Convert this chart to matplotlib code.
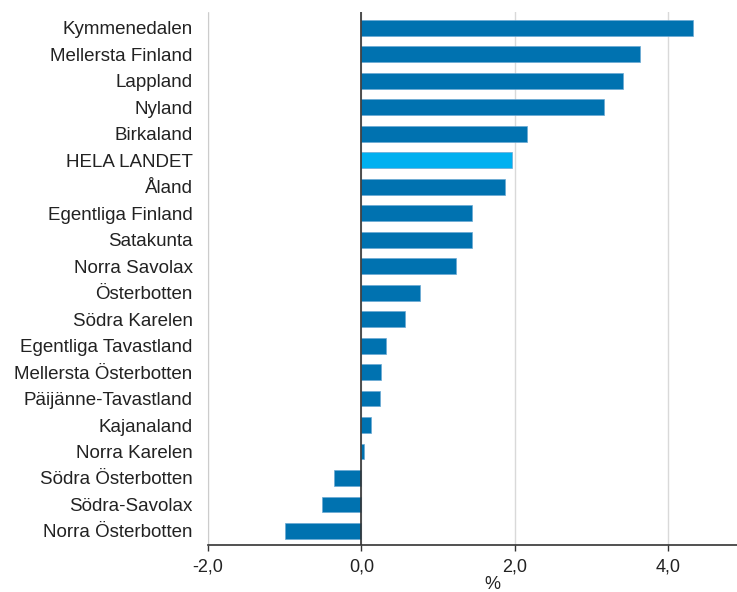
import matplotlib.pyplot as plt

plt.rcParams['font.family'] = ['Liberation Sans', 'DejaVu Sans']

# data, top to bottom
regioner = ['Kymmenedalen', 'Mellersta Finland', 'Lappland', 'Nyland', 'Birkaland',
            'HELA LANDET', 'Åland', 'Egentliga Finland', 'Satakunta', 'Norra Savolax',
            'Österbotten', 'Södra Karelen', 'Egentliga Tavastland', 'Mellersta Österbotten',
            'Päijänne-Tavastland', 'Kajanaland', 'Norra Karelen', 'Södra Österbotten',
            'Södra-Savolax', 'Norra Österbotten']
varden = [4.33, 3.64, 3.41, 3.16, 2.16, 1.97, 1.87, 1.45, 1.45, 1.24,
          0.76, 0.57, 0.32, 0.26, 0.24, 0.13, 0.03, -0.36, -0.51, -0.99]

farger = ['#00B0F0' if r == 'HELA LANDET' else '#0072B0' for r in regioner]

fig = plt.figure(figsize=(7.37, 5.92), dpi=100)
ax = fig.add_axes([0.2822, 0.0794, 0.7178, 0.9006])

pos = list(range(len(regioner)))
ax.barh(pos, varden, height=0.6, color=farger, edgecolor='#6aa9d4', linewidth=0.5, zorder=3)
ax.set_yticks(pos)
ax.set_yticklabels(regioner, fontsize=13.5, color='#222222')
ax.invert_yaxis()
ax.set_ylim(len(regioner) - 0.47, -0.6)

ax.set_xlim(-2.0, 4.9)
ax.set_xticks([-2, 0, 2, 4])
ax.set_xticklabels(['-2,0', '0,0', '2,0', '4,0'], fontsize=13, color='#222222')
ax.grid(axis='x', color='#d9d9d9', linewidth=1, zorder=0)
ax.axvline(0, color='#333333', linewidth=1.2, zorder=4)

for s in ['top', 'right']:
    ax.spines[s].set_visible(False)
ax.spines['left'].set_color('#cccccc')
ax.spines['left'].set_linestyle((0, (1, 1)))
ax.spines['bottom'].set_color('#333333')
ax.spines['bottom'].set_linewidth(1.2)

ax.tick_params(axis='y', length=0, pad=11)
ax.tick_params(axis='x', length=4, width=1, color='#333333', pad=6)

ax.set_xlabel('%', fontsize=13, color='#222222', va='top')
ax.xaxis.set_label_coords(0.537, -0.058)

fig.savefig('out.png', dpi=100)
